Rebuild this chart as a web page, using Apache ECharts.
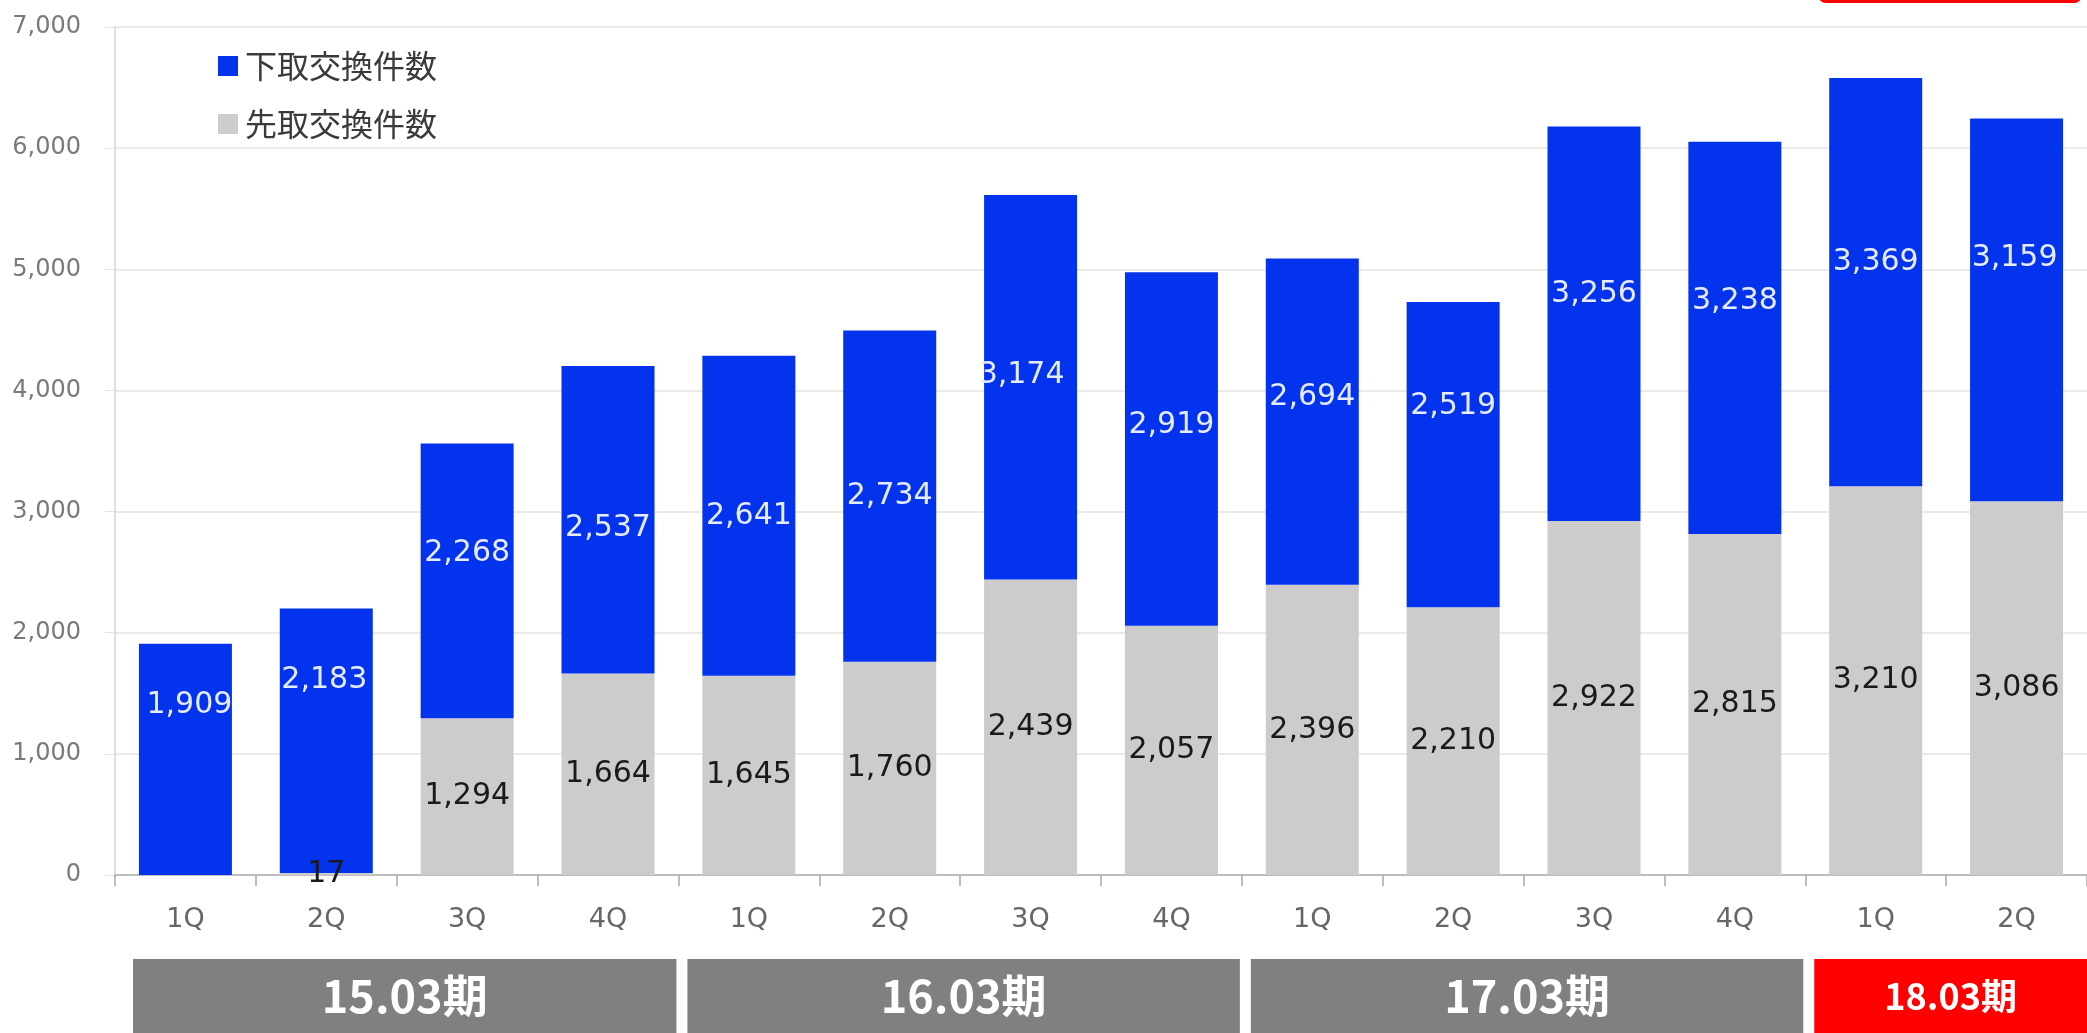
<!DOCTYPE html>
<html><head><meta charset="utf-8">
<script src="https://cdn.jsdelivr.net/npm/echarts@6/dist/echarts.min.js"></script>
<style>html,body{margin:0;padding:0;background:#fff;overflow:hidden}#c{width:2087px;height:1033px}</style>
</head><body><div id="c"></div>
<script>
// ---- data ----
const categories = ['1Q','2Q','3Q','4Q','1Q','2Q','3Q','4Q','1Q','2Q','3Q','4Q','1Q','2Q'];
const shitadori = [1909,2183,2268,2537,2641,2734,3174,2919,2694,2519,3256,3238,3369,3159]; // 下取交換件数
const sakidori  = [null,17,1294,1664,1645,1760,2439,2057,2396,2210,2922,2815,3210,3086];   // 先取交換件数
const yMin = 0, yMax = 7000, yStep = 1000;
const periods = ['15.03期','16.03期','17.03期','18.03期'];
const periodQuarters = [4,4,4,2];
const seriesNames = ['下取交換件数','先取交換件数'];

// ---- style (label nudges, px) ----
const blueLabelNudge = [[4,-54],[-2,-61],[0,-28],[0,8],[0,0],[0,0],[-9,-12],[0,-24],[0,-24],[0,-48],[0,-30],[0,-37],[0,-20],[-2,-52]];

const BLUE = '#0433ee', GRAY = '#cccccc';
const chart = echarts.init(document.getElementById('c'), null, {renderer:'canvas'});
const fmt = v => v.toLocaleString('en-US');

const option = {
  animation: false,
  backgroundColor: '#ffffff',
  grid: {left: 115, top: 27, right: -10, bottom: 158, containLabel: false},
  legend: {
    data: seriesNames, orient: 'vertical', left: 213, top: 45,
    itemWidth: 20, itemHeight: 20, itemGap: 26, icon: 'rect',
    textStyle: {fontFamily: '"Noto Sans CJK JP"', fontSize: 32, lineHeight: 32, color: '#3a3a3a', padding: [0,0,0,2]}
  },
  xAxis: {
    type: 'category', data: categories, boundaryGap: true,
    axisLine: {show: true, lineStyle: {color: '#bdbdbd', width: 2}},
    axisTick: {show: true, length: 11, lineStyle: {color: '#a8a8a8', width: 1.5}},
    axisLabel: {fontFamily: '"DejaVu Sans"', fontSize: 27, color: '#666', margin: 31}
  },
  yAxis: {
    type: 'value', min: yMin, max: yMax, interval: yStep,
    axisLine: {show: true, lineStyle: {color: '#d4d4d4', width: 1.5}},
    axisTick: {show: true, length: 10, lineStyle: {color: '#e0e0e0'}},
    splitLine: {show: true, lineStyle: {color: '#e3e3e3', width: 1.5}},
    axisLabel: {fontFamily: '"DejaVu Sans"', fontSize: 24, color: '#7a7a7a', margin: 34, formatter: v => fmt(v)}
  },
  series: [
    {
      name: seriesNames[1], type: 'bar', stack: 'a', barWidth: 93,
      itemStyle: {color: GRAY},
      data: sakidori,
      label: {show: true, position: 'inside', fontFamily: '"DejaVu Sans"', fontSize: 30, color: '#1a1a1a',
        formatter: p => p.value == null ? '' : fmt(p.value)}
    },
    {
      name: seriesNames[0], type: 'bar', stack: 'a', barWidth: 93,
      itemStyle: {color: BLUE},
      data: shitadori.map((v, i) => ({value: v, label: {offset: blueLabelNudge[i]}})),
      label: {show: true, position: 'inside', fontFamily: '"DejaVu Sans"', fontSize: 30, color: '#e6ecff',
        formatter: p => fmt(p.value)}
    }
  ]
};
chart.setOption(option);

// period boxes under the axis, aligned to category boundaries
const c0 = chart.convertToPixel({xAxisIndex: 0}, 0);
const c1 = chart.convertToPixel({xAxisIndex: 0}, 1);
const band = c1 - c0;
const boundary = i => c0 - band / 2 + i * band;
const graphics = [];
let start = 0;
periods.forEach((name, k) => {
  const end = start + periodQuarters[k];
  const last = k === periods.length - 1;
  const x0 = boundary(start) + (k === 0 ? 18 : 9);
  const x1 = last ? 2100 : boundary(end) - 2;
  graphics.push({
    type: 'rect', shape: {x: x0, y: 959, width: x1 - x0, height: 90},
    style: {fill: last ? '#ff0000' : '#808080'}, silent: true
  });
  const tx = last ? (x0 + 2087) / 2 : (x0 + x1) / 2;
  graphics.push({
    type: 'text', x: tx, y: 996,
    style: {text: name, fill: '#ffffff', font: 'bold ' + (last ? 36 : 45) + 'px "Noto Sans CJK JP"',
      textAlign: 'center', textVerticalAlign: 'middle'}, silent: true
  });
  start = end;
});
// red tab at the top-right edge
graphics.push({type: 'rect', shape: {x: 1818, y: -30, width: 264, height: 33, r: 8}, style: {fill: '#ff0000'}, silent: true});
chart.setOption({graphic: graphics});
</script>
</body></html>
